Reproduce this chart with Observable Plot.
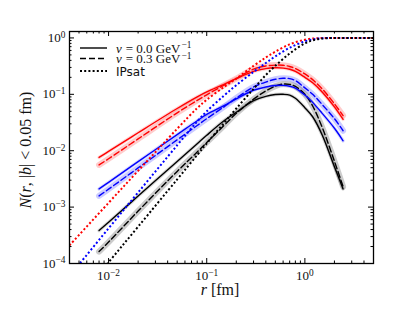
<!DOCTYPE html>
<html><head><meta charset="utf-8">
<script src="https://cdn.jsdelivr.net/npm/d3@7"></script>
<script src="https://cdn.jsdelivr.net/npm/@observablehq/plot@0.6"></script>
<style>body{margin:0;background:#fff} #chart svg{display:block}</style>
</head><body><div id="chart"></div>
<script>
// r values (fm) of the model curves (solid v=0.0, dashed v=0.3)
const rModel = [0.008,0.01,0.02,0.05,0.08,0.1,0.15,0.2,0.3,0.4,0.5,0.6,0.7,0.8,1.0,1.2,1.5,2.0,2.45];
const redSolid   = [0.0076,0.0097,0.0208,0.056,0.09,0.11,0.15,0.19,0.255,0.285,0.295,0.292,0.278,0.255,0.2,0.16,0.11,0.06,0.036];
const redDashed  = [0.0056,0.0072,0.0162,0.047,0.078,0.098,0.145,0.19,0.28,0.318,0.33,0.328,0.312,0.287,0.23,0.182,0.125,0.068,0.042];
const blueSolid  = [0.0021,0.00275,0.0064,0.0193,0.034,0.044,0.063,0.083,0.118,0.135,0.143,0.144,0.139,0.129,0.097,0.072,0.046,0.025,0.015];
const blueDashed = [0.00158,0.00208,0.00495,0.0156,0.028,0.037,0.06,0.086,0.135,0.165,0.185,0.193,0.19,0.175,0.13,0.1,0.066,0.037,0.0226];
const blackSolid = [3.84e-4,5.4e-4,1.57e-3,6.45e-3,0.0133,0.0188,0.034,0.048,0.077,0.092,0.099,0.1,0.097,0.085,0.058,0.04,0.019,0.0052,0.0021];
const blackDashed= [1.63e-4,2.4e-4,8.5e-4,4.3e-3,0.0095,0.014,0.028,0.046,0.082,0.115,0.14,0.152,0.15,0.138,0.1,0.062,0.026,0.0065,0.0023];
// IPsat (dotted)
const rIPsat = [0.004,0.01,0.02,0.05,0.08,0.1,0.15,0.2,0.3,0.4,0.5,0.7,1.0,1.3,1.7,2.5,5];
const redIPsat   = [2.1e-4,1.19e-3,4.4e-3,0.0245,0.057,0.08,0.135,0.19,0.32,0.45,0.57,0.77,0.93,0.985,0.999,1,1];
const blueIPsat  = [6e-5,4.2e-4,1.82e-3,0.0125,0.033,0.05,0.095,0.145,0.25,0.36,0.47,0.67,0.87,0.965,0.996,1,1];
const blackIPsat = [1.5e-5,1.05e-4,4.5e-4,3.1e-3,8.4e-3,0.0135,0.031,0.056,0.125,0.22,0.32,0.53,0.8,0.94,0.99,1,1];

const xMajor = [0.01,0.1,1];
const yMajor = [1e-4,1e-3,1e-2,1e-1,1];
const xMinor = [], yMinor = [];
for (const e of [-3,-2,-1,0]) for (let k=2;k<=9;k++){ const v=k*10**e; if (v>0.0041 && v<=5) xMinor.push(v); }
for (const e of [-4,-3,-2,-1]) for (let k=2;k<=9;k++) yMinor.push(k*10**e);

const toRows = (r, v) => r.map((x,i)=>({r:x, N:v[i]}));
const RED="#ff0000", BLUE="#0000ff", BLACK="#000000";
const FH = 312-31-49, FW = 415-69-42;
const DOT = "2,2.2";

const series = [
  {d: toRows(rModel,redDashed), c: RED, dash:"6,3", band:true},
  {d: toRows(rModel,blueDashed), c: BLUE, dash:"6,3", band:true},
  {d: toRows(rModel,blackDashed), c: BLACK, dash:"6,3", band:true},
  {d: toRows(rModel,redSolid), c: RED, dash:null, band:false},
  {d: toRows(rModel,blueSolid), c: BLUE, dash:null, band:false},
  {d: toRows(rModel,blackSolid), c: BLACK, dash:null, band:false},
];
const dotted = [
  {d: toRows(rIPsat,redIPsat), c: RED},
  {d: toRows(rIPsat,blueIPsat), c: BLUE},
  {d: toRows(rIPsat,blackIPsat), c: BLACK},
];

const marks = [];
for (const s of series) {
  marks.push(Plot.line(s.d, {x:"r", y:"N", stroke:s.c, strokeWidth: s.band?6:3.5, strokeOpacity: s.band?0.2:0.15, curve:"catmull-rom", clip:true}));
}
for (const s of series) {
  marks.push(Plot.line(s.d, {x:"r", y:"N", stroke:s.c, strokeWidth:1.4, strokeDasharray:s.dash||undefined, curve:"catmull-rom", clip:true}));
}
for (const s of dotted) {
  marks.push(Plot.line(s.d, {x:"r", y:"N", stroke:s.c, strokeWidth:2, strokeDasharray:DOT, strokeLinecap:"butt", curve:"catmull-rom", clip:true}));
}
const fmt = d => "10^" + Math.round(Math.log10(d));
marks.push(
  Plot.tickX(xMajor, {x:d=>d, insetTop:FH-5, stroke:"black"}),
  Plot.tickX(xMajor, {x:d=>d, insetBottom:FH-5, stroke:"black"}),
  Plot.tickX(xMinor, {x:d=>d, insetTop:FH-2.5, stroke:"black"}),
  Plot.tickX(xMinor, {x:d=>d, insetBottom:FH-2.5, stroke:"black"}),
  Plot.tickY(yMajor, {y:d=>d, insetRight:FW-5, stroke:"black"}),
  Plot.tickY(yMajor, {y:d=>d, insetLeft:FW-5, stroke:"black"}),
  Plot.tickY(yMinor, {y:d=>d, insetRight:FW-2.5, stroke:"black"}),
  Plot.tickY(yMinor, {y:d=>d, insetLeft:FW-2.5, stroke:"black"}),
  Plot.axisX(xMajor, {tickSize:0, tickPadding:7, tickFormat:fmt, label:null}),
  Plot.axisY(yMajor, {tickSize:0, tickPadding:4, tickFormat:fmt, label:null}),
  Plot.frame({stroke:"black", strokeWidth:1.3})
);

const chart = Plot.plot({
  width:415, height:312, marginLeft:69, marginRight:42, marginTop:31, marginBottom:49,
  x:{type:"log", domain:[0.004,5]},
  y:{type:"log", domain:[1e-4,1.3]},
  style:{fontFamily:"'Liberation Serif', serif", fontSize:"13px", color:"#111", background:"#fff"},
  marks
});
document.getElementById("chart").appendChild(chart);

const ns = "http://www.w3.org/2000/svg";
chart.querySelectorAll("text").forEach(t => {
  const m = t.textContent.match(/^10\^(.+)$/);
  if (m) {
    t.textContent = "";
    const a = document.createElementNS(ns,"tspan"); a.textContent = "10";
    const b = document.createElementNS(ns,"tspan"); b.textContent = m[1].replace("-","\u2212");
    b.setAttribute("dy","-0.45em"); b.setAttribute("font-size","0.72em");
    t.append(a,b);
  }
});
function txt(parent, attrs, parts) {
  const t = document.createElementNS(ns,"text");
  for (const k in attrs) t.setAttribute(k, attrs[k]);
  for (const p of parts) {
    const s = document.createElementNS(ns,"tspan");
    s.textContent = p.t;
    if (p.i) s.setAttribute("font-style","italic");
    if (p.dx) s.setAttribute("dx", p.dx);
    if (p.sup) { s.setAttribute("dy","-0.45em"); s.setAttribute("font-size","0.72em"); }
    t.appendChild(s);
  }
  parent.appendChild(t);
  return t;
}
const g = document.createElementNS(ns,"g");
chart.appendChild(g);
// axis labels
txt(g, {x:220, y:295, "text-anchor":"middle", "font-family":"'Liberation Serif', serif", "font-size":"16", fill:"#111"},
  [{t:"r",i:true},{t:" [fm]"}]);
txt(g, {transform:"translate(31,150) rotate(-90)", "text-anchor":"middle", "font-family":"'Liberation Serif', serif", "font-size":"16", fill:"#111"},
  [{t:"N",i:true},{t:"("},{t:"r",i:true},{t:", |"},{t:"b",i:true},{t:"| < 0.05 fm)"}]);
// legend
const legend = [
  {y:48, dash:null, parts:[{t:"v",i:true},{t:"= 0.0 GeV",dx:4},{t:"\u22121",sup:true,dx:1}]},
  {y:58.5, dash:"6,3", parts:[{t:"v",i:true},{t:"= 0.3 GeV",dx:4},{t:"\u22121",sup:true,dx:1}]},
  {y:71, dash:DOT, sans:true, parts:[{t:"IPsat"}]},
];
for (const l of legend) {
  const ln = document.createElementNS(ns,"line");
  ln.setAttribute("x1",80); ln.setAttribute("x2",107); ln.setAttribute("y1",l.y); ln.setAttribute("y2",l.y);
  ln.setAttribute("stroke","black"); ln.setAttribute("stroke-width", l.sans?2:1.4);
  if (l.dash) ln.setAttribute("stroke-dasharray", l.dash);
  g.appendChild(ln);
  txt(g, {x:116, y:l.y+4.5, "text-anchor":"start", "font-family": l.sans?"'DejaVu Sans', sans-serif":"'Liberation Serif', serif", "font-size": l.sans?"12":"13", fill:"#111"}, l.parts);
}
</script></body></html>
